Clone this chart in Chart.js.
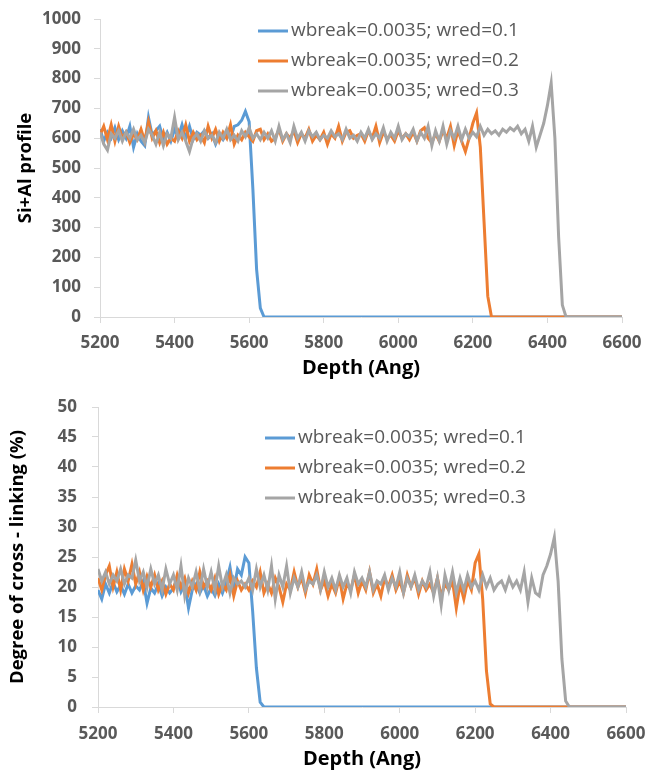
<!DOCTYPE html>
<html>
<head>
<meta charset="utf-8">
<title>Si+Al profile and cross-linking vs depth</title>
<script src="https://cdn.jsdelivr.net/npm/chart.js"></script>
<style>
    body { margin: 0; background: #fff; }
    canvas { display: block; }
</style>
</head>
<body>
<canvas id="profile-chart" width="646" height="387"></canvas>
<canvas id="crosslink-chart" width="646" height="386"></canvas>
<script>
// --- DATA ---
// depth grid, 10 Ang sampling from 5200 to 6600
const DEPTH_MIN = 5200;
const DEPTH_MAX = 6600;
const DEPTH_STEP = 10;
const X_TICKS = [5200, 5400, 5600, 5800, 6000, 6200, 6400, 6600];

const SERIES_LABELS = [
    'wbreak=0.0035; wred=0.1',
    'wbreak=0.0035; wred=0.2',
    'wbreak=0.0035; wred=0.3'
];

// Si+Al profile, one row per 100 Ang
const profileRed01 = [
    630, 590, 620, 600, 635, 595, 625, 600, 640, 570,   // 5200
    615, 590, 575, 670, 610, 625, 640, 595, 620, 590,   // 5300
    630, 605, 645, 600, 640, 595, 620, 610, 625, 600,   // 5400
    615, 580, 610, 595, 615, 600, 640, 645, 660, 690,   // 5500
    655, 430, 160, 30, 0, 0, 0, 0, 0, 0,                // 5600
    0, 0, 0, 0, 0, 0, 0, 0, 0, 0,                       // 5700
    0, 0, 0, 0, 0, 0, 0, 0, 0, 0,                       // 5800
    0, 0, 0, 0, 0, 0, 0, 0, 0, 0,                       // 5900
    0, 0, 0, 0, 0, 0, 0, 0, 0, 0,                       // 6000
    0, 0, 0, 0, 0, 0, 0, 0, 0, 0,                       // 6100
    0, 0, 0, 0, 0, 0, 0, 0, 0, 0,                       // 6200
    0, 0, 0, 0, 0, 0, 0, 0, 0, 0,                       // 6300
    0, 0, 0, 0, 0, 0, 0, 0, 0, 0,                       // 6400
    0, 0, 0, 0, 0, 0, 0, 0, 0, 0,                       // 6500
    0                                                   // 6600
];
const profileRed02 = [
    610, 640, 595, 645, 590, 640, 600, 620, 585, 615,   // 5200
    595, 630, 590, 655, 600, 625, 585, 620, 580, 600,   // 5300
    590, 625, 600, 645, 590, 620, 595, 610, 585, 640,   // 5400
    600, 630, 590, 620, 600, 645, 580, 610, 595, 620,   // 5500
    605, 590, 625, 630, 595, 615, 590, 600, 630, 590,   // 5600
    615, 600, 625, 585, 615, 600, 630, 590, 610, 595,   // 5700
    620, 580, 615, 600, 640, 590, 620, 625, 600, 610,   // 5800
    615, 590, 625, 600, 640, 585, 620, 600, 610, 590,   // 5900
    625, 600, 615, 595, 620, 590, 625, 635, 600, 585,   // 6000
    615, 590, 625, 600, 640, 575, 625, 590, 555, 600,   // 6100
    650, 685, 570, 320, 70, 0, 0, 0, 0, 0,              // 6200
    0, 0, 0, 0, 0, 0, 0, 0, 0, 0,                       // 6300
    0, 0, 0, 0, 0, 0, 0, 0, 0, 0,                       // 6400
    0, 0, 0, 0, 0, 0, 0, 0, 0, 0,                       // 6500
    0                                                   // 6600
];
const profileRed03 = [
    620, 580, 560, 615, 600, 625, 590, 620, 600, 630,   // 5200
    595, 610, 585, 630, 610, 580, 620, 575, 615, 600,   // 5300
    670, 595, 620, 590, 555, 600, 615, 590, 625, 600,   // 5400
    610, 585, 620, 600, 630, 595, 610, 590, 625, 605,   // 5500
    635, 600, 615, 595, 620, 600, 625, 590, 640, 595,   // 5600
    615, 585, 640, 600, 620, 590, 625, 605, 620, 595,   // 5700
    610, 600, 625, 605, 615, 595, 630, 600, 610, 590,   // 5800
    620, 600, 630, 595, 615, 600, 635, 590, 620, 600,   // 5900
    640, 595, 615, 605, 630, 590, 620, 600, 640, 575,   // 6000
    625, 590, 640, 580, 625, 600, 640, 595, 630, 600,   // 6100
    620, 605, 640, 610, 630, 615, 625, 610, 630, 620,   // 6200
    635, 625, 640, 615, 630, 590, 640, 570, 610, 650,   // 6300
    710, 785, 600, 270, 40, 0, 0, 0, 0, 0,              // 6400
    0, 0, 0, 0, 0, 0, 0, 0, 0, 0,                       // 6500
    0                                                   // 6600
];

// degree of cross-linking (%), one row per 100 Ang
const crosslinkRed01 = [
    19.5, 18.0, 20.5, 19.0, 20.8, 19.2, 20.3, 18.8, 20.5, 19.0,   // 5200
    20.2, 19.5, 21.0, 17.3, 19.8, 19.0, 20.5, 18.5, 20.0, 19.0,   // 5300
    19.8, 21.5, 19.2, 20.5, 16.5, 19.5, 20.5, 19.0, 20.3, 18.5,   // 5400
    19.8, 18.6, 20.5, 19.0, 20.8, 23.3, 19.5, 23.0, 22.0, 25.0,   // 5500
    24.0, 16.0, 6.5, 0.8, 0, 0, 0, 0, 0, 0,                       // 5600
    0, 0, 0, 0, 0, 0, 0, 0, 0, 0,                                 // 5700
    0, 0, 0, 0, 0, 0, 0, 0, 0, 0,                                 // 5800
    0, 0, 0, 0, 0, 0, 0, 0, 0, 0,                                 // 5900
    0, 0, 0, 0, 0, 0, 0, 0, 0, 0,                                 // 6000
    0, 0, 0, 0, 0, 0, 0, 0, 0, 0,                                 // 6100
    0, 0, 0, 0, 0, 0, 0, 0, 0, 0,                                 // 6200
    0, 0, 0, 0, 0, 0, 0, 0, 0, 0,                                 // 6300
    0, 0, 0, 0, 0, 0, 0, 0, 0, 0,                                 // 6400
    0, 0, 0, 0, 0, 0, 0, 0, 0, 0,                                 // 6500
    0                                                             // 6600
];
const crosslinkRed02 = [
    21.5, 19.5, 22.0, 23.5, 20.0, 22.5, 19.5, 23.0, 21.0, 23.8,   // 5200
    20.5, 22.5, 19.5, 21.8, 20.0, 22.0, 19.5, 21.0, 18.8, 20.5,   // 5300
    19.5, 22.0, 20.0, 21.5, 19.0, 21.0, 19.5, 22.5, 20.0, 21.0,   // 5400
    19.5, 21.5, 18.8, 20.5, 19.5, 22.0, 18.5, 21.0, 19.5, 20.5,   // 5500
    19.5, 21.0, 20.0, 22.5, 19.0, 20.5, 19.0, 21.5, 20.0, 17.5,   // 5600
    20.5, 19.5, 22.5, 20.0, 21.5, 19.0, 22.0, 20.5, 23.0, 19.5,   // 5700
    21.0, 18.5, 20.5, 19.0, 21.5, 18.0, 20.5, 19.5, 22.0, 19.0,   // 5800
    21.0, 19.5, 22.5, 19.0, 20.5, 18.5, 21.5, 20.0, 22.0, 19.5,   // 5900
    21.0, 19.0, 22.0, 20.0, 21.5, 18.8, 21.0, 19.5, 20.5, 19.0,   // 6000
    21.5, 18.5, 20.5, 19.5, 21.0, 16.5, 20.5, 18.0, 21.0, 19.5,   // 6100
    24.0, 25.5, 18.0, 6.0, 0.5, 0, 0, 0, 0, 0,                    // 6200
    0, 0, 0, 0, 0, 0, 0, 0, 0, 0,                                 // 6300
    0, 0, 0, 0, 0, 0, 0, 0, 0, 0,                                 // 6400
    0, 0, 0, 0, 0, 0, 0, 0, 0, 0,                                 // 6500
    0                                                             // 6600
];
const crosslinkRed03 = [
    23.0, 21.0, 22.5, 20.5, 22.0, 21.0, 23.0, 20.5, 22.0, 21.5,   // 5200
    24.5, 21.0, 22.5, 20.0, 23.0, 20.5, 22.0, 19.5, 23.0, 20.5,   // 5300
    22.0, 19.5, 23.5, 18.5, 21.5, 20.0, 22.5, 19.5, 23.0, 20.0,   // 5400
    22.5, 19.5, 23.5, 20.0, 22.0, 19.0, 21.5, 20.5, 21.0, 20.0,   // 5500
    21.5, 19.5, 23.0, 20.0, 22.0, 19.5, 23.5, 18.0, 22.0, 20.0,   // 5600
    23.5, 19.0, 21.5, 20.0, 22.5, 19.5, 21.0, 20.5, 22.0, 19.5,   // 5700
    22.5, 20.0, 21.5, 19.5, 22.0, 20.0, 21.5, 19.0, 22.5, 20.5,   // 5800
    21.5, 20.0, 22.5, 19.5, 21.0, 20.5, 22.0, 19.5, 21.5, 20.0,   // 5900
    22.5, 19.0, 21.5, 20.0, 22.0, 19.5, 21.0, 20.0, 22.5, 18.5,   // 6000
    21.5, 17.0, 22.0, 19.5, 22.5, 19.0, 21.5, 19.5, 22.0, 20.0,   // 6100
    21.0, 19.5, 22.0, 20.0, 21.5, 19.5, 20.5, 21.0, 19.5, 21.5,   // 6200
    20.0, 21.0, 19.5, 22.5, 17.5, 21.5, 19.0, 18.5, 22.0, 23.5,   // 6300
    25.5, 28.3, 21.0, 8.0, 1.0, 0, 0, 0, 0, 0,                    // 6400
    0, 0, 0, 0, 0, 0, 0, 0, 0, 0,                                 // 6500
    0                                                             // 6600
];

window.addEventListener('load', () => {

    // --- STYLE ---
    const COLORS = ['#5B9BD5', '#ED7D31', '#A5A5A5'];
    const FONT = '"Open Sans", "Liberation Sans", sans-serif';
    const TICK_COLOR = '#595959';
    const AXIS_COLOR = '#D9D9D9';

    const depths = [];
    for (let d = DEPTH_MIN; d <= DEPTH_MAX; d += DEPTH_STEP) depths.push(d);

    function toPoints(values) {
        return depths.map((d, i) => ({ x: d, y: values[i] }));
    }

    // plain numbers on the axes, no thousands separator
    const plainNumber = value => String(value);

    // legend drawn inside the plot, at the spot Excel put it
    const inlineLegend = {
        id: 'inlineLegend',
        afterDraw(chart, args, opts) {
            const ctx = chart.ctx;
            ctx.save();
            ctx.font = opts.font;
            ctx.textBaseline = 'middle';
            ctx.textAlign = 'left';
            chart.data.datasets.forEach((ds, i) => {
                const y = opts.top + i * opts.rowGap;
                ctx.strokeStyle = ds.borderColor;
                ctx.lineWidth = 3;
                ctx.beginPath();
                ctx.moveTo(opts.left, y);
                ctx.lineTo(opts.left + opts.lineLength, y);
                ctx.stroke();
                ctx.fillStyle = opts.color;
                ctx.fillText(ds.label, opts.left + opts.lineLength + opts.gap, y);
            });
            ctx.restore();
        }
    };

    function makeChart(canvasId, cfg) {
        const ctx = document.getElementById(canvasId).getContext('2d');
        // gray on top of orange on top of blue
        const datasets = cfg.series.map((values, i) => ({
            label: SERIES_LABELS[i],
            data: toPoints(values),
            borderColor: COLORS[i],
            backgroundColor: COLORS[i],
            borderWidth: 3,
            pointRadius: 0,
            tension: 0,
            order: 3 - i
        }));

        return new Chart(ctx, {
            type: 'line',
            data: { datasets: datasets },
            plugins: [inlineLegend],
            options: {
                responsive: false,
                animation: false,
                events: [],
                layout: { padding: cfg.padding },
                plugins: {
                    legend: { display: false },
                    tooltip: { enabled: false },
                    inlineLegend: Object.assign({
                        font: '19px ' + FONT,
                        color: TICK_COLOR,
                        lineLength: 30,
                        gap: 3,
                        rowGap: 30
                    }, cfg.legend)
                },
                scales: {
                    x: {
                        type: 'linear',
                        min: DEPTH_MIN,
                        max: DEPTH_MAX,
                        // fixed box; label overhang is covered by layout padding
                        afterFit: s => {
                            s.height = cfg.xAxisHeight;
                            s.paddingLeft = 0;
                            s.paddingRight = 0;
                        },
                        afterBuildTicks: s => { s.ticks = X_TICKS.map(v => ({ value: v })); },
                        border: { color: AXIS_COLOR, width: 1 },
                        grid: { drawOnChartArea: false, color: AXIS_COLOR, tickLength: 6 },
                        ticks: {
                            color: TICK_COLOR,
                            font: { family: FONT, size: 17, weight: 'bold' },
                            padding: cfg.xTickPadding,
                            maxRotation: 0,
                            autoSkip: false,
                            callback: plainNumber
                        },
                        title: {
                            display: true,
                            text: 'Depth (Ang)',
                            color: '#000',
                            font: { family: FONT, size: 20, weight: 'bold' },
                            padding: { top: 0, bottom: cfg.xTitlePadding }
                        }
                    },
                    y: {
                        min: 0,
                        max: cfg.yMax,
                        afterFit: s => {
                            s.width = cfg.yAxisWidth;
                            s.paddingTop = 0;
                            s.paddingBottom = 0;
                        },
                        border: { color: AXIS_COLOR, width: 1 },
                        grid: { drawOnChartArea: false, color: AXIS_COLOR, tickLength: 6 },
                        ticks: {
                            stepSize: cfg.yStep,
                            color: TICK_COLOR,
                            font: { family: FONT, size: 17, weight: 'bold' },
                            padding: cfg.yTickPadding,
                            callback: plainNumber
                        },
                        title: {
                            display: true,
                            text: cfg.yTitle,
                            color: '#000',
                            font: { family: FONT, size: 18.5, weight: 'bold' },
                            padding: { top: cfg.yTitlePadding, bottom: 0 }
                        }
                    }
                }
            }
        });
    }

    // --- CHARTS ---
    makeChart('profile-chart', {
        series: [profileRed01, profileRed02, profileRed03],
        yMax: 1000,
        yStep: 100,
        yTitle: 'Si+Al profile',
        yTitlePadding: 15,
        yAxisWidth: 100,
        yTickPadding: 13,
        xAxisHeight: 70,
        xTickPadding: 10,
        xTitlePadding: 7,
        padding: { left: 0, top: 19, right: 24, bottom: 0 },
        legend: { left: 258, top: 31 }
    });

    makeChart('crosslink-chart', {
        series: [crosslinkRed01, crosslinkRed02, crosslinkRed03],
        yMax: 50,
        yStep: 5,
        yTitle: 'Degree of cross - linking (%)',
        yTitlePadding: 7,
        yAxisWidth: 98,
        yTickPadding: 15,
        xAxisHeight: 66,
        xTickPadding: 11,
        xTitlePadding: 2,
        padding: { left: 0, top: 20, right: 20, bottom: 0 },
        legend: { left: 265, top: 51 }
    });
});
</script>
</body>
</html>
